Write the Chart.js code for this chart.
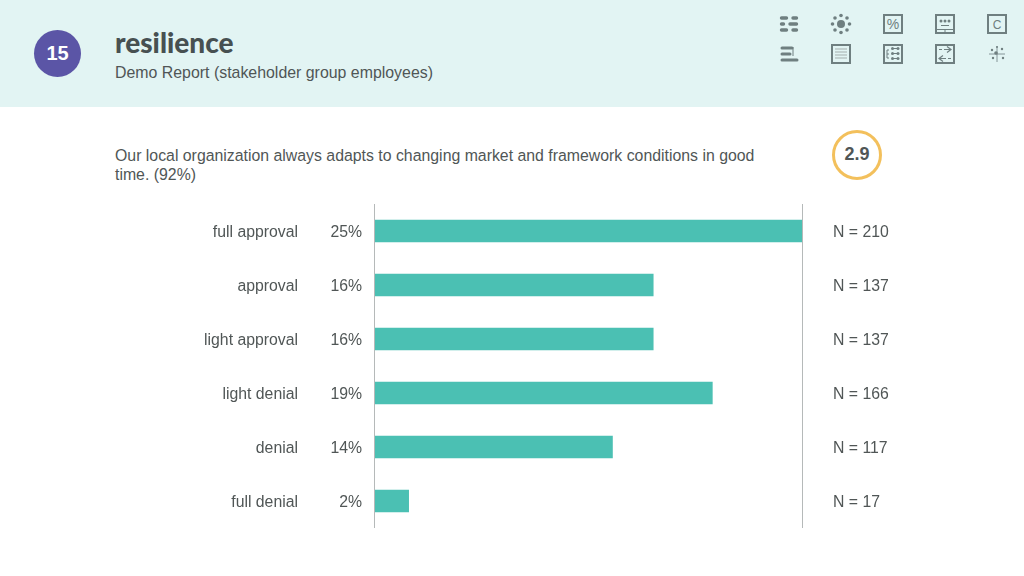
<!DOCTYPE html>
<html>
<head>
<meta charset="utf-8">
<title>resilience</title>
<script src="https://cdn.jsdelivr.net/npm/chart.js@4"></script>
<style>
html, body { margin: 0; padding: 0; width: 1024px; height: 576px; overflow: hidden; background: #fff; }
body { position: relative; font-family: "Liberation Sans", Arial, sans-serif; color: #505656; }
.header { position: absolute; left: 0; top: 0; width: 1024px; height: 107px; background: #e2f4f3; }
.badge { position: absolute; left: 34px; top: 30px; width: 47px; height: 47px; border-radius: 50%; background: #5b55a6; color: #fff; font-size: 20px; font-weight: bold; line-height: 46px; text-align: center; }
.title { position: absolute; left: 115px; top: 25px; font-family: Lato, sans-serif; font-weight: 900; font-size: 28px; line-height: 34px; color: #475051; }
.subtitle { position: absolute; left: 115px; top: 63px; font-size: 15.9px; line-height: 19px; white-space: nowrap; }
.question { position: absolute; left: 115px; top: 146px; width: 660px; font-size: 15.85px; line-height: 19px; }
.score { position: absolute; left: 832px; top: 130px; width: 44px; height: 44px; border: 3px solid #f3c05c; border-radius: 50%; font-size: 18px; font-weight: bold; line-height: 43px; text-align: center; }
#icons { position: absolute; left: 760px; top: 0; }
#chart { position: absolute; left: 0; top: 0; }
</style>
</head>
<body>
<div class="header"></div>
<div class="badge">15</div>
<div class="title">resilience</div>
<div class="subtitle">Demo Report (stakeholder group employees)</div>
<div class="question">Our local organization always adapts to changing market and framework conditions in good time. (92%)</div>
<div class="score">2.9</div>

<svg id="icons" width="264" height="80" fill="none" stroke="#6f7f80" stroke-width="2">
    <!-- row 1 -->
    <g stroke-width="3.400" stroke-linecap="round">
        <path d="M21.500 18h5M33 18h3.500M21.500 24h2M30 24h6.500M21.500 30h5M33 30h3.500"/>
    </g>
    <g fill="#6f7f80" stroke="none">
        <circle cx="81" cy="24" r="4"/>
        <circle cx="81" cy="15.500" r="1.800"/><circle cx="81" cy="32.500" r="1.800"/>
        <circle cx="72.500" cy="24" r="1.800"/><circle cx="89.500" cy="24" r="1.800"/>
        <circle cx="75" cy="18" r="1.800"/><circle cx="87" cy="18" r="1.800"/>
        <circle cx="75" cy="30" r="1.800"/><circle cx="87" cy="30" r="1.800"/>
    </g>
    <rect x="124" y="15" width="18" height="18"/>
    <text x="133" y="29" text-anchor="middle" font-size="14" fill="#6f7f80" stroke="none">%</text>
    <rect x="176" y="15" width="18" height="18"/>
    <path d="M176 29.500h18M185 29.500v4M181 25.500h8" stroke-width="1"/>
    <g fill="#6f7f80" stroke="none">
        <circle cx="181" cy="21" r="1.500"/><circle cx="185" cy="21" r="1.500"/><circle cx="189" cy="21" r="1.500"/>
    </g>
    <rect x="228" y="15" width="18" height="18"/>
    <text x="237" y="29" text-anchor="middle" font-size="12" fill="#6f7f80" stroke="none">C</text>
    <!-- row 2 -->
    <g stroke-width="3" stroke-linecap="round">
        <path d="M22 48h10M22 54h8M22 60h15"/>
    </g>
    <path d="M33 47v9" stroke-width="1"/>
    <rect x="72" y="45" width="18" height="18"/>
    <path d="M75 49h12M75 52h12M75 55h12M75 58h12" stroke-width="1.200" stroke="#a3aeae"/>
    <rect x="124" y="45" width="18" height="18"/>
    <path d="M127 50v8M127 50h2M127 54h2M127 58h2" stroke-width="1"/>
    <path d="M132 48.500h6M132 53.500h6M132 58.500h6" stroke-width="1"/>
    <g fill="#6f7f80" stroke="none">
        <circle cx="132.500" cy="48.500" r="1.500"/><circle cx="138" cy="48.500" r="1.500"/>
        <circle cx="132.500" cy="53.500" r="1.500"/><circle cx="138" cy="53.500" r="1.500"/>
        <circle cx="132.500" cy="58.500" r="1.500"/><circle cx="138" cy="58.500" r="1.500"/>
    </g>
    <rect x="176" y="45" width="18" height="18"/>
    <path d="M179 49.500h3M184 49.500h7M187 46.500l4 3-4 3M191 58.500h-3M186 58.500h-7M183 55.500l-4 3 4 3" stroke-width="1.200"/>
    <path d="M237 46v16M229 54h16" stroke-width="0.800"/>
    <g fill="#6f7f80" stroke="none">
        <circle cx="236" cy="53" r="1.800"/><circle cx="232" cy="50" r="1.200"/><circle cx="242" cy="49" r="1.200"/>
        <circle cx="233" cy="58" r="1.200"/><circle cx="243" cy="58" r="1.200"/><circle cx="237" cy="47" r="1"/>
    </g>
</svg>

<canvas id="chart" width="1024" height="576"></canvas>

<script>
const categories = ["full approval", "approval", "light approval", "light denial", "denial", "full denial"];
const shareLabels = ["25%", "16%", "16%", "19%", "14%", "2%"];
const counts = [210, 137, 137, 166, 117, 17];
const countLabels = counts.map((n) => `N = ${n}`);

const textColor = "#505656";
const labelFont = { family: "'Liberation Sans', Arial, sans-serif", size: 15.8 };
const hiddenAxisLine = { display: false, drawTicks: false };

function fixedWidth(width) {
    return (scale) => { scale.width = width; };
}

new Chart(document.getElementById("chart").getContext("2d"), {
    type: "bar",
    data: {
        labels: categories,
        datasets: [{
            data: counts,
            backgroundColor: "#4bc0b3",
            barThickness: 22,
            yAxisID: "y",
        }],
    },
    options: {
        indexAxis: "y",
        responsive: false,
        animation: false,
        layout: { padding: { left: 114, top: 204, right: 0, bottom: 48 } },
        plugins: { legend: { display: false }, tooltip: { enabled: false } },
        scales: {
            x: {
                min: 0,
                max: 210,
                afterBuildTicks: (scale) => { scale.ticks = [{ value: 0 }, { value: 210 }]; },
                ticks: { display: false },
                grid: { color: "#b5b9b9", lineWidth: 1, drawTicks: false, z: 1 },
                border: { display: false },
            },
            y: {
                position: "left",
                weight: 2,
                labels: shareLabels,
                afterFit: fixedWidth(60),
                ticks: { color: textColor, font: labelFont, padding: 12, labelOffset: 2 },
                grid: hiddenAxisLine,
                border: { display: false },
            },
            yCategory: {
                type: "category",
                position: "left",
                weight: 3,
                labels: categories,
                afterFit: fixedWidth(200),
                ticks: { color: textColor, font: labelFont, padding: 16, labelOffset: 2 },
                grid: hiddenAxisLine,
                border: { display: false },
            },
            yCount: {
                type: "category",
                position: "right",
                labels: countLabels,
                afterFit: fixedWidth(222),
                ticks: { color: textColor, font: labelFont, padding: 31, labelOffset: 2 },
                grid: hiddenAxisLine,
                border: { display: false },
            },
        },
    },
});
</script>
</body>
</html>
